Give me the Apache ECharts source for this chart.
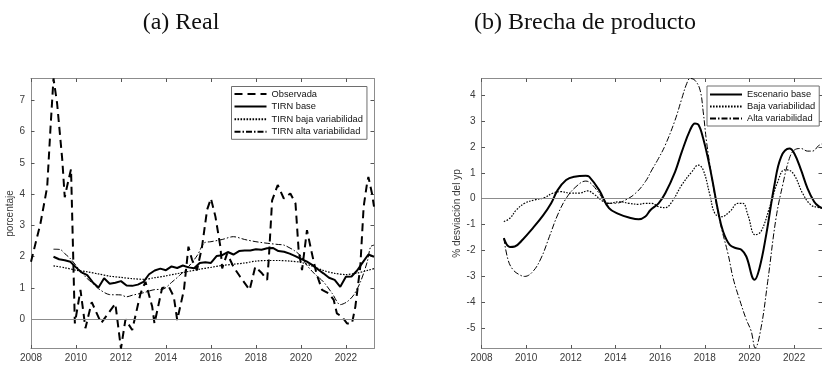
<!DOCTYPE html>
<html>
<head>
<meta charset="utf-8">
<script src="https://cdn.jsdelivr.net/npm/echarts@6/dist/echarts.min.js"></script>
<style>
  html, body { margin: 0; padding: 0; background: #ffffff; }
  #chart { width: 822px; height: 366px; }
</style>
</head>
<body>
<div id="chart"></div>
<script>
// ---- Panel (a): tasa real observada y TIRN estimada ----
const yearTicks = [2008, 2010, 2012, 2014, 2016, 2018, 2020, 2022];
const realTicks = [0, 1, 2, 3, 4, 5, 6, 7];
const gapTicks = [-5, -4, -3, -2, -1, 0, 1, 2, 3, 4];

const observada = [
  [2008.0, 1.84], [2008.42, 3.06], [2008.72, 4.23], [2008.87, 6.15], [2009.0, 7.69],
  [2009.16, 6.9], [2009.39, 5.1], [2009.5, 3.9], [2009.62, 4.3], [2009.78, 4.8],
  [2009.95, -0.13], [2010.2, 0.94], [2010.42, -0.28], [2010.7, 0.55], [2011.12, -0.12],
  [2011.75, 0.5], [2012.0, -0.93], [2012.2, 0.0], [2012.5, -0.34], [2012.87, 0.83],
  [2013.09, 1.2], [2013.39, 0.4], [2013.49, -0.13], [2013.83, 1.0], [2014.13, 1.04],
  [2014.35, 0.72], [2014.5, -0.02], [2014.8, 0.94], [2015.0, 2.32], [2015.16, 1.9],
  [2015.38, 1.57], [2015.6, 2.3], [2015.83, 3.5], [2016.0, 3.86], [2016.2, 3.28],
  [2016.42, 2.32], [2016.5, 1.63], [2016.72, 2.1], [2017.0, 1.68], [2017.3, 1.36],
  [2017.72, 0.94], [2017.97, 1.68], [2018.27, 1.47], [2018.5, 1.26], [2018.57, 1.9],
  [2018.72, 3.8], [2018.97, 4.29], [2019.24, 3.86], [2019.53, 4.02], [2019.76, 3.7],
  [2019.9, 2.2], [2020.05, 1.57], [2020.27, 2.85], [2020.49, 2.1], [2020.69, 1.47],
  [2020.94, 0.94], [2021.24, 0.83], [2021.46, 0.62], [2021.6, 0.19], [2021.83, 0.08],
  [2022.05, -0.13], [2022.27, -0.13], [2022.42, 0.4], [2022.64, 1.68], [2022.79, 3.6],
  [2022.94, 4.34], [2023.0, 4.55], [2023.16, 4.02], [2023.25, 3.6]
];

const tirnBase = [
  [2009.0, 2.0], [2009.25, 1.92], [2009.5, 1.89], [2009.75, 1.84], [2010.0, 1.66],
  [2010.25, 1.5], [2010.5, 1.41], [2010.75, 1.18], [2011.0, 1.02], [2011.25, 1.31],
  [2011.5, 1.14], [2011.75, 1.17], [2012.0, 1.22], [2012.25, 1.08], [2012.5, 1.07],
  [2012.75, 1.11], [2013.0, 1.2], [2013.25, 1.44], [2013.5, 1.56], [2013.75, 1.62],
  [2014.0, 1.57], [2014.25, 1.69], [2014.5, 1.64], [2014.75, 1.72], [2015.0, 1.66],
  [2015.25, 1.63], [2015.5, 1.8], [2015.75, 1.82], [2016.0, 1.8], [2016.25, 2.02],
  [2016.5, 2.05], [2016.75, 2.15], [2017.0, 2.07], [2017.25, 2.18], [2017.5, 2.2],
  [2017.75, 2.2], [2018.0, 2.24], [2018.25, 2.22], [2018.5, 2.27], [2018.75, 2.28],
  [2019.0, 2.18], [2019.25, 2.16], [2019.5, 2.1], [2019.75, 2.02], [2020.0, 1.93],
  [2020.25, 1.85], [2020.5, 1.74], [2020.75, 1.6], [2021.0, 1.47], [2021.25, 1.33],
  [2021.5, 1.26], [2021.75, 1.04], [2022.0, 1.36], [2022.25, 1.37], [2022.5, 1.56],
  [2022.75, 1.82], [2023.0, 2.07], [2023.25, 2.0]
];

const tirnBaja = [
  [2009.0, 1.71], [2009.5, 1.65], [2010.0, 1.57], [2010.5, 1.52], [2011.0, 1.45],
  [2011.5, 1.38], [2012.0, 1.34], [2012.5, 1.3], [2013.0, 1.28], [2013.5, 1.33],
  [2014.0, 1.39], [2014.5, 1.46], [2015.0, 1.53], [2015.5, 1.6], [2016.0, 1.66],
  [2016.5, 1.72], [2017.0, 1.76], [2017.5, 1.8], [2018.0, 1.86], [2018.5, 1.88],
  [2019.0, 1.88], [2019.5, 1.86], [2020.0, 1.82], [2020.5, 1.7], [2021.0, 1.56],
  [2021.5, 1.47], [2022.0, 1.43], [2022.5, 1.48], [2023.0, 1.57], [2023.25, 1.62]
];

const tirnAlta = [
  [2009.0, 2.24], [2009.3, 2.23], [2009.5, 2.1], [2009.75, 1.94], [2010.0, 1.72],
  [2010.25, 1.5], [2010.5, 1.3], [2010.75, 1.15], [2011.0, 0.98], [2011.5, 0.79],
  [2012.0, 0.78], [2012.25, 0.72], [2012.5, 0.77], [2013.0, 0.85], [2013.5, 0.95],
  [2013.85, 0.96], [2014.25, 1.18], [2014.6, 1.4], [2015.0, 1.68], [2015.4, 2.05],
  [2015.7, 2.44], [2016.0, 2.48], [2016.5, 2.55], [2017.0, 2.64], [2017.5, 2.55],
  [2018.0, 2.48], [2018.5, 2.43], [2019.0, 2.39], [2019.25, 2.37], [2019.7, 2.2],
  [2020.0, 2.02], [2020.25, 1.74], [2020.6, 1.46], [2021.0, 1.2], [2021.4, 0.82],
  [2021.75, 0.47], [2022.05, 0.56], [2022.35, 0.78], [2022.65, 1.2], [2022.95, 1.84],
  [2023.1, 2.32], [2023.25, 2.37]
];

// ---- Panel (b): brecha de producto ----
const brechaBase = [
  [2009.0, -1.53], [2009.27, -1.87], [2009.49, -1.85], [2009.86, -1.57], [2010.3, -1.14],
  [2010.75, -0.66], [2011.12, -0.18], [2011.41, 0.33], [2011.79, 0.72], [2012.16, 0.85],
  [2012.67, 0.89], [2012.82, 0.85], [2013.27, 0.33], [2013.71, -0.37], [2014.16, -0.6],
  [2014.6, -0.73], [2015.04, -0.8], [2015.34, -0.69], [2015.57, -0.44], [2015.93, -0.18],
  [2016.23, 0.21], [2016.67, 1.04], [2016.97, 1.81], [2017.34, 2.65], [2017.56, 2.91],
  [2017.71, 2.87], [2017.93, 2.33], [2018.16, 1.49], [2018.38, 0.53], [2018.6, -0.5],
  [2018.82, -1.27], [2019.12, -1.79], [2019.42, -1.92], [2019.64, -1.98], [2019.86, -2.24],
  [2020.23, -3.14], [2020.45, -2.69], [2020.75, -1.4], [2021.12, 0.53], [2021.42, 1.62],
  [2021.79, 1.94], [2022.01, 1.75], [2022.31, 1.11], [2022.6, 0.4], [2022.9, -0.12],
  [2023.12, -0.31], [2023.25, -0.36]
];

const brechaBaja = [
  [2009.0, -0.89], [2009.27, -0.76], [2009.56, -0.44], [2009.93, -0.18], [2010.38, -0.05],
  [2010.82, 0.04], [2011.19, 0.21], [2011.56, 0.27], [2012.0, 0.21], [2012.38, 0.21],
  [2012.75, 0.3], [2013.04, 0.17], [2013.42, -0.09], [2013.71, -0.18], [2014.16, -0.12],
  [2014.6, -0.18], [2015.04, -0.22], [2015.34, -0.18], [2015.63, -0.18], [2015.93, -0.31],
  [2016.23, -0.35], [2016.53, -0.12], [2016.97, 0.53], [2017.42, 1.04], [2017.71, 1.3],
  [2017.93, 1.11], [2018.23, 0.14], [2018.45, -0.57], [2018.75, -0.7], [2019.12, -0.5],
  [2019.49, -0.18], [2019.71, -0.18], [2019.93, -0.63], [2020.26, -1.4], [2020.52, -1.27],
  [2020.89, -0.37], [2021.27, 0.66], [2021.56, 1.11], [2021.71, 1.11], [2022.01, 0.91],
  [2022.38, 0.21], [2022.75, -0.24], [2023.12, -0.35], [2023.25, -0.37]
];

const brechaAlta = [
  [2009.0, -1.53], [2009.19, -2.37], [2009.41, -2.75], [2009.71, -2.95], [2009.93, -3.01],
  [2010.3, -2.82], [2010.67, -2.3], [2011.04, -1.47], [2011.41, -0.63], [2011.79, 0.01],
  [2012.23, 0.46], [2012.67, 0.68], [2012.9, 0.59], [2013.27, 0.21], [2013.64, -0.18],
  [2014.0, -0.18], [2014.45, -0.05], [2014.9, 0.21], [2015.34, 0.66], [2015.63, 1.11],
  [2015.93, 1.56], [2016.23, 2.07], [2016.67, 3.04], [2016.97, 3.87], [2017.19, 4.45],
  [2017.34, 4.65], [2017.56, 4.58], [2017.79, 4.2], [2017.93, 3.36], [2018.08, 2.2],
  [2018.3, 0.91], [2018.53, -0.25], [2018.75, -1.15], [2019.05, -2.17], [2019.27, -3.08],
  [2019.56, -3.91], [2019.86, -4.68], [2020.08, -5.13], [2020.26, -5.78], [2020.52, -5.0],
  [2020.82, -3.2], [2021.19, -0.76], [2021.49, 0.53], [2021.79, 1.56], [2022.01, 1.88],
  [2022.31, 1.94], [2022.6, 1.84], [2022.82, 1.84], [2023.12, 2.07], [2023.25, 2.12]
];

// ---- styling helpers ----
const AXIS_GREY = '#8c8c8c';
const LABEL_COLOR = '#3a3a3a';
const SANS = 'Liberation Sans, Arial, sans-serif';
const X_MIN = 2008, X_MAX = 2023.25;

function xAxisDef(gridIndex, position, showLabels) {
  return {
    type: 'value', gridIndex, position, min: X_MIN, max: X_MAX,
    axisLine: { show: true, onZero: false, lineStyle: { color: AXIS_GREY, width: 1 } },
    axisTick: { show: true, inside: true, length: 3.5, customValues: yearTicks,
                lineStyle: { color: '#555', width: 1 } },
    axisLabel: { show: showLabels, customValues: yearTicks, color: LABEL_COLOR,
                 fontFamily: SANS, fontSize: 10, margin: 5, formatter: v => String(v) },
    splitLine: { show: false }
  };
}

function yAxisDef(gridIndex, position, min, max, ticks, showLabels, name) {
  return {
    type: 'value', gridIndex, position, min, max,
    name: showLabels ? name : '',
    nameLocation: 'middle', nameGap: 14,
    nameTextStyle: { color: LABEL_COLOR, fontFamily: SANS, fontSize: 10 },
    axisLine: { show: true, onZero: false, lineStyle: { color: AXIS_GREY, width: 1 } },
    axisTick: { show: true, inside: true, length: 3.5, customValues: ticks,
                lineStyle: { color: '#555', width: 1 } },
    axisLabel: { show: showLabels, customValues: ticks, color: LABEL_COLOR,
                 fontFamily: SANS, fontSize: 10, margin: 6, formatter: v => String(v) },
    splitLine: { show: false }
  };
}

function lineSeries(name, data, xIdx, yIdx, style, smooth) {
  return {
    name, type: 'line', data, xAxisIndex: xIdx, yAxisIndex: yIdx,
    symbol: 'none', showSymbol: false, smooth: smooth || false,
    lineStyle: Object.assign({ color: '#000000' }, style),
    itemStyle: { color: '#000000' },
    emphasis: { disabled: true }, silent: true, z: 3
  };
}

const zeroLine = {
  silent: true, symbol: ['none', 'none'], label: { show: false },
  lineStyle: { color: AXIS_GREY, width: 1, type: 'solid' },
  data: [{ yAxis: 0 }], animation: false
};

const dashStyle = { width: 2, type: [8, 5] };
const solidStyle = { width: 2, type: 'solid' };
const dotStyle = { width: 1.2, type: [1.6, 1.4] };
const dashDotStyle = { width: 1, type: [6, 2, 1.5, 2] };

// legend keys show only the line sample, no marker
const legendCommon = {
  orient: 'vertical', itemWidth: 32, itemHeight: 10,
  backgroundColor: '#ffffff', borderColor: '#6e6e6e', borderWidth: 1,
  borderRadius: 0, selectedMode: false,
  itemStyle: { color: 'rgba(0,0,0,0)', borderColor: 'rgba(0,0,0,0)', borderWidth: 0, opacity: 0 },
  textStyle: { color: '#111', fontFamily: SANS, fontSize: 9.3 }
};

const chart = echarts.init(document.getElementById('chart'), null, { renderer: 'canvas' });

chart.setOption({
  animation: false,
  backgroundColor: '#ffffff',
  title: [
    { text: '(a) Real', left: 176, top: 6, textAlign: 'center',
      textStyle: { fontFamily: 'Liberation Serif, serif', fontWeight: 'normal', fontSize: 24, color: '#111' } },
    { text: '(b) Brecha de producto', left: 580, top: 6, textAlign: 'center',
      textStyle: { fontFamily: 'Liberation Serif, serif', fontWeight: 'normal', fontSize: 24, color: '#111' } }
  ],
  grid: [
    { left: 31, top: 78.5, width: 343, height: 270, containLabel: false },
    { left: 481.5, top: 78.5, width: 343.5, height: 270, containLabel: false }
  ],
  legend: [
    Object.assign({}, legendCommon, {
      left: 231.5, top: 86.5, itemGap: 3.6, padding: [3, 4, 3, 2],
      data: ['Observada', 'TIRN base', 'TIRN baja variabilidad', 'TIRN alta variabilidad']
    }),
    Object.assign({}, legendCommon, {
      left: 707, top: 86, itemGap: 3, padding: [4, 4, 3, 2],
      data: ['Escenario base', 'Baja variabilidad', 'Alta variabilidad']
    })
  ],
  xAxis: [
    xAxisDef(0, 'bottom', true),
    xAxisDef(0, 'top', false),
    xAxisDef(1, 'bottom', true),
    xAxisDef(1, 'top', false)
  ],
  yAxis: [
    yAxisDef(0, 'left', -0.93, 7.69, realTicks, true, 'porcentaje'),
    yAxisDef(0, 'right', -0.93, 7.69, realTicks, false, ''),
    yAxisDef(1, 'left', -5.80, 4.65, gapTicks, true, '% desviación del yp'),
    yAxisDef(1, 'right', -5.80, 4.65, gapTicks, false, '')
  ],
  series: [
    Object.assign(lineSeries('Observada', observada, 0, 0, dashStyle), { markLine: zeroLine }),
    lineSeries('TIRN base', tirnBase, 0, 0, solidStyle),
    lineSeries('TIRN baja variabilidad', tirnBaja, 0, 0, dotStyle, 0.3),
    lineSeries('TIRN alta variabilidad', tirnAlta, 0, 0, dashDotStyle, 0.3),
    Object.assign(lineSeries('Escenario base', brechaBase, 2, 2, solidStyle, 0.4), { markLine: zeroLine }),
    lineSeries('Baja variabilidad', brechaBaja, 2, 2, dotStyle, 0.4),
    lineSeries('Alta variabilidad', brechaAlta, 2, 2, dashDotStyle, 0.4)
  ]
});
</script>
</body>
</html>
